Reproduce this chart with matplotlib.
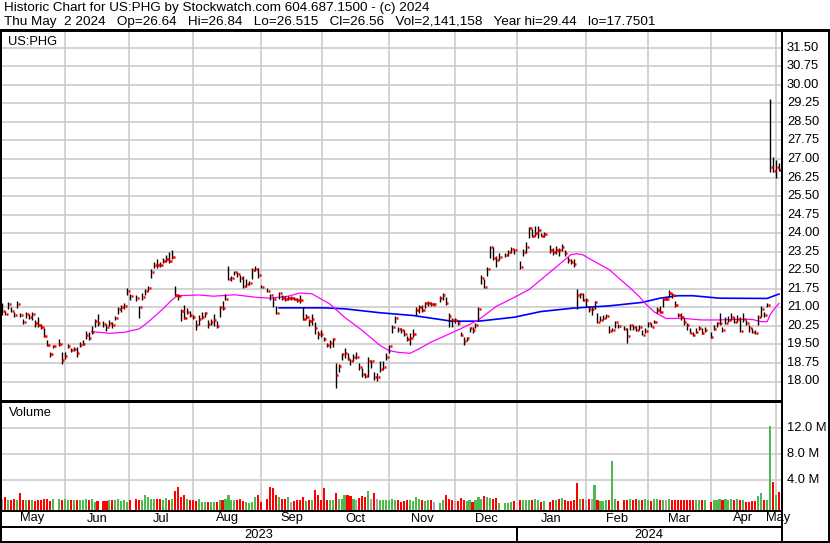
import numpy as np
import pandas as pd
import matplotlib
matplotlib.use("Agg")
import matplotlib.pyplot as plt
from matplotlib.patches import Rectangle

plt.rcParams['font.family'] = ['Liberation Sans', 'DejaVu Sans']

W, H = 830, 543

# market holidays inside the window (weekday slots left empty on the chart)
holidays = ['2023-05-29', '2023-06-19', '2023-07-04', '2023-09-04', '2023-11-23',
            '2023-12-25', '2024-01-01', '2024-01-15', '2024-02-19', '2024-03-29']

# daily closes, one row per month (May 3 2023 .. May 2 2024)
close = [
    20.85, 20.75, 21.13, 20.87, 20.70, 21.13, 20.67, 20.40, 20.74, 20.59, 20.74, 20.36, 20.27, 20.22, 19.83, 19.46, 19.12, 19.43, 19.50, 18.86,
    19.05, 19.43, 19.28, 19.30, 19.15, 19.48, 19.51, 19.89, 19.75, 20.02, 20.43, 20.36, 20.31, 20.20, 20.37, 20.27, 20.56, 20.94, 21.00, 21.05, 21.65,
    21.44, 21.38, 21.00, 21.41, 21.65, 21.77, 22.42, 22.73, 22.72, 22.70, 22.89, 22.96, 22.87, 23.03, 21.48, 21.45, 20.84, 20.56, 20.83, 20.67,
    20.60, 20.27, 20.51, 20.60, 20.76, 20.33, 20.40, 20.47, 20.24, 21.00, 20.98, 21.34, 22.15, 22.18, 22.42, 22.35, 22.19, 21.86, 21.95, 21.98, 22.52, 22.56, 22.29,
    21.84, 21.68, 21.50, 21.34, 20.76, 21.57, 21.37, 21.34, 21.37, 21.37, 21.34, 21.30, 21.28, 20.51, 20.60, 20.43, 20.51, 20.16, 19.93, 19.91,
    19.71, 19.48, 19.55, 19.71, 18.27, 18.63, 19.12, 19.14, 18.93, 18.81, 19.01, 19.01, 18.60, 18.31, 18.23, 18.81, 18.81, 18.20, 18.20, 18.50, 18.60, 18.98,
    19.44, 20.20, 20.56, 20.11, 20.09, 19.93, 19.71, 19.75, 19.93, 20.90, 21.00, 20.90, 21.16, 21.19, 21.14, 21.14, 21.37, 21.50, 21.16, 20.63, 20.49,
    20.49, 20.38, 19.88, 19.65, 19.75, 20.15, 20.09, 20.29, 20.94, 22.18, 21.84, 22.55, 23.43, 22.99, 22.90, 23.03, 23.13, 23.25, 23.37, 23.30,
    22.65, 23.22, 23.46, 24.20, 23.90, 24.00, 24.14, 23.90, 23.95, 23.30, 23.22, 23.33, 23.30, 23.46, 23.19, 22.92, 22.82, 22.75, 21.51, 21.55, 21.30,
    21.30, 20.93, 20.93, 21.20, 20.39, 20.50, 20.57, 20.66, 20.03, 20.07, 20.39, 20.26, 20.13, 19.85, 20.30, 20.20, 20.10, 20.20, 19.89, 20.05,
    20.35, 20.22, 20.42, 20.89, 20.82, 21.32, 21.32, 21.59, 21.50, 21.09, 20.69, 20.60, 20.42, 20.29, 19.98, 19.88, 20.02, 20.15, 19.98, 20.08,
    19.81, 20.11, 20.35, 20.38, 20.08, 20.38, 20.49, 20.62, 20.42, 20.52, 20.06, 20.52, 20.35, 20.15, 20.02, 19.98, 20.59, 20.94, 20.69, 21.09, 26.66, 26.50,
    26.69, 26.56,
]

high = [
    21.18, 20.87, 21.21, 21.00, 20.83, 21.24, 20.78, 20.51, 20.80, 20.74, 20.80, 20.47, 20.60, 20.33, 20.16, 19.66, 19.21, 19.48, 19.73, 19.21,
    19.18, 19.51, 19.35, 19.39, 19.39, 19.59, 19.66, 20.06, 20.02, 20.24, 20.51, 20.74, 20.43, 20.33, 20.47, 20.40, 20.66, 21.00, 21.10, 21.18, 21.78,
    21.55, 21.50, 21.05, 21.60, 21.74, 21.85, 22.55, 22.85, 22.97, 22.85, 23.00, 23.10, 23.25, 23.30, 21.88, 21.52, 20.94, 21.10, 20.97, 20.87,
    20.67, 20.47, 20.67, 20.83, 20.83, 20.47, 20.53, 20.74, 20.43, 21.07, 21.24, 21.55, 22.66, 22.26, 22.49, 22.42, 22.31, 22.25, 22.15, 22.05, 22.58, 22.69, 22.58,
    21.91, 21.77, 21.55, 21.41, 21.05, 21.64, 21.48, 21.45, 21.45, 21.45, 21.43, 21.38, 21.50, 21.00, 20.74, 20.51, 20.74, 20.40, 20.06, 20.10,
    19.80, 19.57, 19.68, 19.75, 18.74, 18.71, 19.17, 19.35, 19.14, 18.90, 19.12, 19.21, 18.74, 18.54, 18.34, 19.00, 18.87, 18.40, 18.34, 18.81, 18.81, 19.14,
    19.48, 20.29, 20.65, 20.20, 20.15, 20.09, 19.84, 19.95, 20.11, 21.03, 21.10, 21.10, 21.23, 21.27, 21.23, 21.19, 21.46, 21.57, 21.43, 20.76, 20.56,
    20.56, 20.49, 20.02, 19.82, 19.82, 20.22, 20.20, 20.36, 21.00, 22.32, 22.14, 22.63, 23.49, 23.46, 23.06, 23.19, 23.19, 23.30, 23.43, 23.35,
    22.86, 23.35, 23.66, 24.24, 24.16, 24.30, 24.30, 24.00, 24.05, 23.53, 23.40, 23.49, 23.40, 23.57, 23.30, 23.03, 22.95, 22.95, 21.74, 21.60, 21.60,
    21.37, 21.04, 21.01, 21.24, 20.77, 20.63, 20.70, 20.74, 20.26, 20.16, 20.43, 20.34, 20.23, 20.16, 20.34, 20.30, 20.23, 20.30, 20.07, 20.16,
    20.42, 20.38, 20.49, 21.03, 21.05, 21.36, 21.43, 21.70, 21.57, 21.27, 20.78, 20.76, 20.55, 20.35, 20.15, 20.02, 20.15, 20.25, 20.15, 20.22,
    20.02, 20.29, 20.42, 20.76, 20.22, 20.62, 20.65, 20.76, 20.62, 20.69, 20.62, 20.76, 20.49, 20.29, 20.15, 20.08, 20.69, 21.05, 20.82, 21.16, 29.44, 27.07,
    26.97, 26.84,
]

low = [
    20.67, 20.70, 20.94, 20.80, 20.62, 20.97, 20.60, 20.33, 20.56, 20.53, 20.50, 20.20, 20.20, 20.13, 19.79, 19.43, 18.98, 19.35, 19.43, 18.72,
    18.92, 19.35, 19.18, 19.22, 18.98, 19.39, 19.46, 19.73, 19.66, 19.93, 20.20, 20.26, 20.20, 20.06, 20.26, 20.18, 20.47, 20.74, 20.83, 20.94, 21.50,
    21.30, 21.25, 20.55, 21.30, 21.50, 21.65, 22.20, 22.60, 22.60, 22.62, 22.80, 22.83, 22.80, 22.96, 21.45, 21.28, 20.43, 20.51, 20.74, 20.60,
    20.53, 20.10, 20.29, 20.51, 20.60, 20.16, 20.29, 20.26, 20.16, 20.60, 20.91, 21.28, 22.12, 22.08, 22.29, 22.22, 22.02, 21.78, 21.82, 21.91, 22.13, 22.49, 22.18,
    21.78, 21.61, 21.28, 21.00, 20.74, 21.34, 21.28, 21.24, 21.30, 21.28, 21.30, 21.22, 21.18, 20.47, 20.51, 20.24, 20.29, 19.93, 19.73, 19.80,
    19.62, 19.41, 19.35, 19.39, 17.75, 18.40, 18.87, 18.94, 18.87, 18.67, 18.81, 18.90, 18.47, 18.20, 18.13, 18.20, 18.54, 18.07, 18.04, 18.40, 18.47, 18.87,
    19.14, 19.95, 20.38, 20.02, 19.98, 19.84, 19.62, 19.48, 19.82, 20.69, 20.79, 20.83, 20.96, 21.06, 21.06, 21.06, 21.23, 21.30, 21.10, 20.22, 20.22,
    20.38, 20.29, 19.84, 19.48, 19.62, 20.02, 19.98, 20.15, 20.46, 21.95, 21.78, 22.25, 22.99, 22.92, 22.63, 22.92, 23.03, 23.08, 23.19, 23.17,
    22.55, 23.08, 23.19, 23.80, 23.84, 23.87, 23.80, 23.87, 23.85, 23.19, 23.12, 23.17, 23.08, 23.26, 23.06, 22.79, 22.76, 22.65, 20.93, 21.37, 21.24,
    21.01, 20.83, 20.70, 20.93, 20.36, 20.43, 20.50, 20.57, 19.96, 20.03, 20.16, 20.16, 20.07, 19.55, 20.09, 20.07, 20.03, 20.07, 19.89, 19.96,
    20.19, 20.19, 20.35, 20.76, 20.76, 21.03, 21.30, 21.43, 21.36, 21.03, 20.60, 20.49, 20.29, 20.08, 19.95, 19.84, 19.95, 20.08, 19.92, 20.02,
    19.75, 20.08, 20.22, 20.29, 20.02, 20.33, 20.42, 20.49, 20.35, 20.42, 20.02, 20.42, 20.29, 20.02, 19.95, 19.92, 20.29, 20.62, 20.60, 21.03, 26.46, 26.46,
    26.23, 26.515,
]

# volume in millions of shares
volume = [
    1.2, 1.4, 0.9, 1.0, 1.2, 0.9, 2.1, 0.9, 0.9, 1.0, 1.0, 0.8, 0.9, 1.0, 1.2, 1.1, 0.8, 1.2, 1.2, 0.9,
    1.1, 1.0, 1.0, 0.9, 0.9, 1.0, 1.0, 1.1, 1.0, 1.1, 0.6, 0.8, 0.8, 0.8, 0.9, 0.9, 1.0, 1.2, 0.8, 1.0, 0.6,
    0.9, 1.2, 1.0, 0.9, 1.7, 1.4, 1.2, 1.2, 1.1, 1.2, 1.0, 1.3, 1.0, 1.1, 2.3, 3.0, 1.5, 1.8, 1.2, 1.0,
    0.9, 0.8, 1.1, 0.7, 0.6, 0.7, 0.6, 0.7, 0.6, 0.9, 1.0, 1.2, 1.7, 1.0, 1.0, 0.9, 1.1, 0.8, 0.6, 0.5, 0.6, 1.5, 1.7,
    0.7, 1.1, 3.0, 2.8, 1.8, 1.5, 1.2, 1.2, 1.5, 0.6, 0.8, 0.9, 1.0, 1.4, 0.8, 0.9, 1.0, 2.5, 1.7, 1.0,
    2.8, 0.9, 1.0, 1.0, 2.0, 1.2, 1.1, 1.8, 1.7, 1.6, 1.2, 1.0, 1.3, 1.6, 1.5, 2.4, 1.1, 2.0, 1.1, 1.0, 0.9, 1.0,
    0.9, 1.2, 1.0, 0.9, 0.7, 0.8, 1.0, 0.9, 0.8, 1.5, 1.1, 0.9, 0.8, 0.9, 0.9, 0.6, 0.5, 1.0, 1.8, 1.2, 1.0,
    0.8, 0.8, 1.3, 0.9, 0.8, 1.0, 0.7, 0.9, 1.5, 1.2, 1.6, 1.4, 1.3, 1.1, 1.3, 0.5, 0.5, 0.5, 0.7, 0.8,
    0.9, 0.9, 0.9, 0.9, 1.0, 1.1, 0.9, 0.6, 0.8, 0.6, 0.9, 1.0, 1.1, 1.3, 0.9, 0.8, 0.8, 1.0, 3.6, 1.2, 1.1,
    1.0, 1.1, 1.1, 3.3, 0.9, 0.8, 0.8, 0.9, 1.0, 6.9, 1.2, 0.8, 0.9, 0.9, 1.1, 1.0, 1.1, 0.9, 1.0, 1.2,
    1.0, 0.8, 1.2, 1.1, 0.9, 0.9, 1.0, 1.1, 1.0, 0.9, 1.0, 1.0, 0.9, 0.9, 1.0, 1.0, 0.9, 0.9, 1.0, 0.9,
    0.6, 0.9, 1.0, 1.1, 1.0, 1.2, 1.0, 1.1, 0.9, 1.2, 0.9, 1.0, 0.6, 0.6, 0.8, 0.8, 1.6, 2.1, 0.9, 0.9, 12.4, 3.8,
    1.8, 2.14,
]

# moving averages (magenta = short, blue = long)
ma_fast_dates = ['2023-06-14', '2023-06-22', '2023-06-29', '2023-07-06', '2023-07-11', '2023-07-18', '2023-07-21',
                 '2023-07-25', '2023-08-03', '2023-08-10', '2023-08-21', '2023-08-30', '2023-09-06', '2023-09-14',
                 '2023-09-20', '2023-09-26', '2023-10-04', '2023-10-11', '2023-10-19', '2023-10-27', '2023-11-01',
                 '2023-11-06', '2023-11-10', '2023-11-15', '2023-11-21', '2023-11-28', '2023-12-06', '2023-12-13',
                 '2023-12-21', '2023-12-29', '2024-01-05', '2024-01-11', '2024-01-19', '2024-01-25', '2024-01-29',
                 '2024-01-31', '2024-02-05', '2024-02-13', '2024-02-16', '2024-02-22', '2024-02-27', '2024-02-29',
                 '2024-03-05', '2024-03-11', '2024-03-19', '2024-03-27', '2024-04-04', '2024-04-11', '2024-04-19',
                 '2024-04-24', '2024-04-26', '2024-04-29', '2024-04-30', '2024-05-01', '2024-05-02']
ma_fast = [20.02, 19.95, 19.99, 20.13, 20.40, 20.94, 21.30,
           21.47, 21.50, 21.45, 21.51, 21.41, 21.37, 21.45,
           21.58, 21.55, 21.14, 20.60, 20.06, 19.45, 19.25,
           19.18, 19.14, 19.32, 19.59, 19.86, 20.19, 20.49,
           21.04, 21.40, 21.72, 22.12, 22.72, 23.13, 23.17,
           23.13, 22.92, 22.52, 22.20, 21.78, 21.44, 21.16,
           20.82, 20.55, 20.55, 20.49, 20.49, 20.51, 20.51,
           20.42, 20.42, 20.70, 20.87, 21.02, 21.16]

ma_slow_dates = ['2023-09-11', '2023-10-02', '2023-10-11', '2023-10-27', '2023-11-13', '2023-11-30', '2023-12-13',
                 '2023-12-29', '2024-01-11', '2024-01-26', '2024-02-13', '2024-02-28', '2024-03-07', '2024-03-15',
                 '2024-03-22', '2024-04-04', '2024-04-26', '2024-05-02']
ma_slow = [20.98, 20.98, 20.94, 20.78, 20.67, 20.44, 20.44,
           20.60, 20.83, 20.97, 21.06, 21.20, 21.37, 21.47,
           21.47, 21.37, 21.36, 21.54]

price_ticks = np.arange(18.0, 31.51, 0.75)
volume_ticks = [4.0, 8.0, 12.0]
month_names = ['May', 'Jun', 'Jul', 'Aug', 'Sep', 'Oct', 'Nov', 'Dec', 'Jan', 'Feb', 'Mar', 'Apr', 'May']
month_starts = ['2023-06-01', '2023-07-01', '2023-08-01', '2023-09-01', '2023-10-01', '2023-11-01',
                '2023-12-01', '2024-01-01', '2024-02-01', '2024-03-01', '2024-04-01', '2024-05-01']

title1 = 'Historic Chart for US:PHG by Stockwatch.com 604.687.1500 - (c) 2024'
title2 = ('Thu May  2 2024   Op=26.64   Hi=26.84   Lo=26.515   Cl=26.56   '
          'Vol=2,141,158   Year hi=29.44   lo=17.7501')

# ---- x positions: one slot per weekday, holidays stay empty
weekdays = pd.bdate_range('2023-05-03', '2024-05-02')
slot = {d: i for i, d in enumerate(weekdays)}
hol = set(pd.to_datetime(holidays))
trade_days = [d for d in weekdays if d not in hol]
x = np.array([slot[d] for d in trade_days], dtype=float)
close = np.array(close)
high = np.array(high)
low = np.array(low)
volume = np.array(volume)


def date_slot(s):
    d = pd.Timestamp(s)
    if d in slot:
        return slot[d]
    nxt = weekdays[weekdays >= d][0]
    return slot[nxt] - 0.5


PX0, PXS = 2.3, 2.976          # pixel of slot 0, pixels per slot


def px(s):
    return PX0 + PXS * s


def fig_rect(x0, y0, w, h):
    return [x0 / W, 1 - (y0 + h) / H, w / W, h / H]


fig = plt.figure(figsize=(W / 100, H / 100), dpi=100)
fig.patch.set_facecolor('white')

xl = ((2 - PX0) / PXS, (781 - PX0) / PXS)
grid_c = '#c8c8c8'
grid_slots = [date_slot(m) for m in month_starts]

# ---- price panel
ax = fig.add_axes(fig_rect(2, 32, 779, 368.5))
ax.set_xlim(*xl)
ax.set_ylim(18 - (400.5 - 381.5) / 24.72, 18 + (381.5 - 32) / 24.72)
ax.axis('off')
for p in price_ticks:
    ax.axhline(p, color=grid_c, lw=1.1, zorder=0)
for g in grid_slots:
    ax.axvline(g, color=grid_c, lw=1.1, zorder=0)

fx = [slot[pd.Timestamp(d)] for d in ma_fast_dates]
sx = [slot[pd.Timestamp(d)] for d in ma_slow_dates]
ax.plot(sx, ma_slow, color='#0000ff', lw=1.2, zorder=2)
ax.plot(fx, ma_fast, color='#ff00ff', lw=0.9, zorder=2)

ax.vlines(x, low, high, color='black', lw=1.0, zorder=3)
ax.hlines(close, x + 0.15, x + 0.9, color='#ff0000', lw=1.8, capstyle='butt', zorder=4)

# ---- volume panel
vx = fig.add_axes(fig_rect(2, 403, 779, 106.5))
vmin = -(509.5 - 506.3) / 6.5
vx.set_xlim(*xl)
vx.set_ylim(vmin, (506.3 - 403) / 6.5)
vx.axis('off')
for v in volume_ticks:
    vx.axhline(v, color=grid_c, lw=1.1, zorder=0)
for g in grid_slots:
    vx.axvline(g, color=grid_c, lw=1.1, zorder=0)
chg = np.diff(close, prepend=close[0])
vcol = np.where(chg > 0, '#50b850', np.where(chg < 0, '#ff0000', '#a8a8a8'))
vx.bar(x, volume - vmin, bottom=vmin, width=0.7, color=vcol, linewidth=0, zorder=2)

# ---- frame lines
for r in [(0, 29.5, 830, 2.5), (0, 29.5, 2, 513.5), (780.5, 29.5, 2.5, 513.5),
          (828, 29.5, 2, 513.5), (0, 400.3, 783, 2.7), (0, 509.5, 783, 2.2),
          (0, 525.8, 783, 2), (0, 541, 830, 2)]:
    fig.patches.append(Rectangle((r[0] / W, 1 - (r[1] + r[3]) / H), r[2] / W, r[3] / H,
                                 transform=fig.transFigure, color='black', lw=0, zorder=5))
jan = px(date_slot('2024-01-01'))
fig.patches.append(Rectangle(((jan - 0.8) / W, 1 - 541 / H), 1.6 / W, 14 / H,
                             transform=fig.transFigure, color='black', lw=0, zorder=5))


def ftext(xp, yp, s, size=9.3, **kw):
    fig.text(xp / W, 1 - yp / H, s, fontsize=size, va='center', **kw)


ftext(4, 8, title1, size=9.7)
ftext(4, 22.5, title2, size=9.7)
ftext(8, 42, 'US:PHG')
ftext(9, 413, 'Volume')

for p in price_ticks:
    ftext(787, 381.5 - (p - 18) * 24.72, '%.2f' % p)
for v in volume_ticks:
    ftext(787, 506.3 - v * 6.5, '%.1f M' % v)

edges = [0.0] + [px(g) for g in grid_slots] + [781.0]
for name, a, b in zip(month_names, edges[:-1], edges[1:]):
    ftext((a + b) / 2, 518.5, name, ha='center')
ftext(jan / 2, 535, '2023', ha='center')
ftext((jan + 781) / 2, 535, '2024', ha='center')

fig.savefig('out.png', dpi=100, facecolor='white')
